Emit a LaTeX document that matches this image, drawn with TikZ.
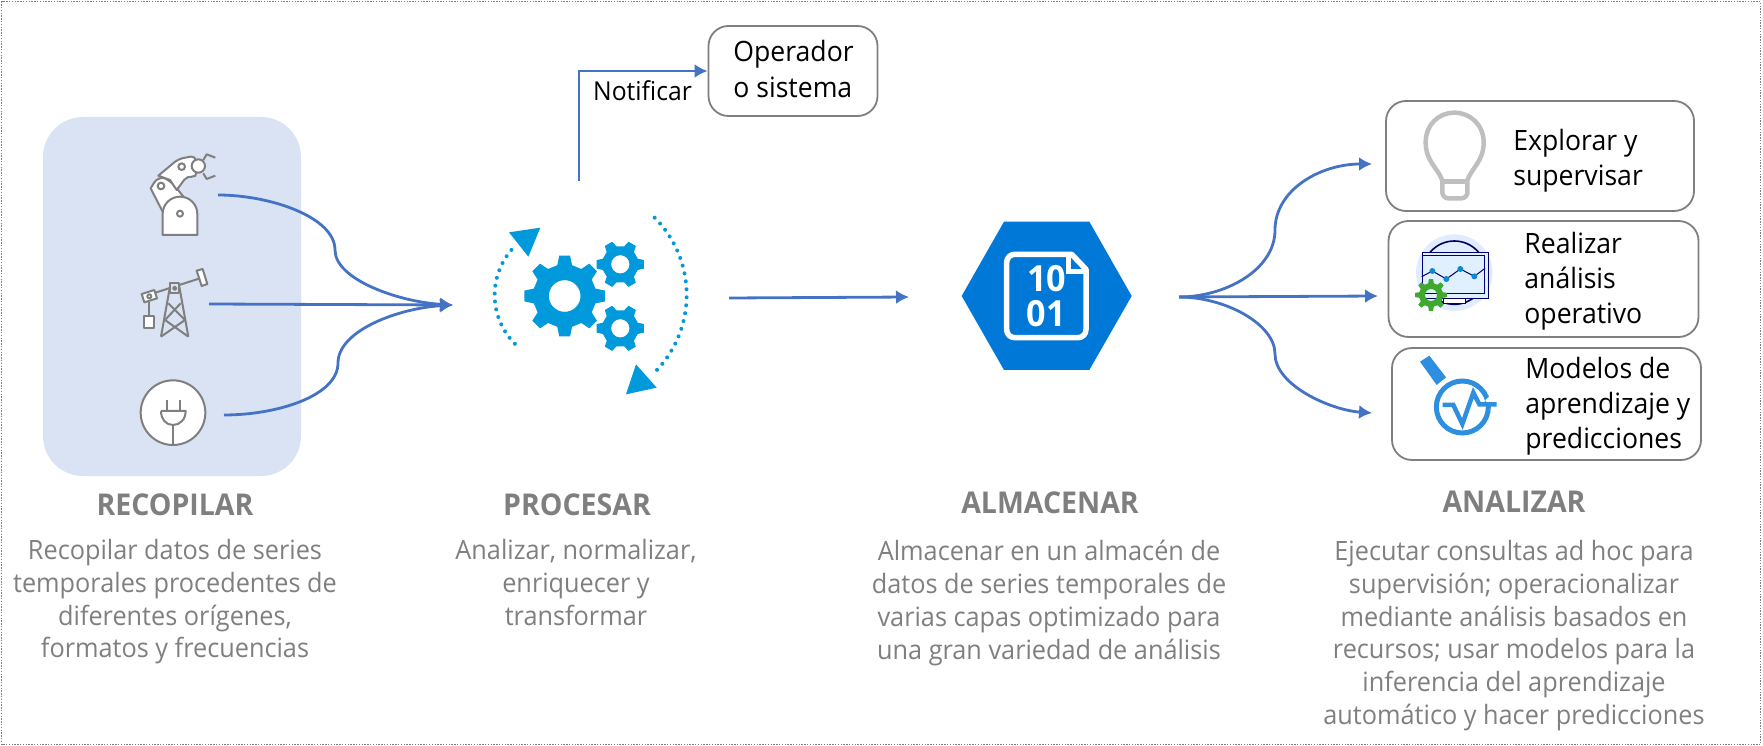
\documentclass[tikz,border=0pt]{standalone}
\usepackage{fontspec}
\setmainfont[FakeStretch=0.95]{Open Sans}
\usetikzlibrary{arrows.meta,positioning}

\definecolor{flowblue}{HTML}{4472C4}
\definecolor{panelblue}{HTML}{DAE3F3}
\definecolor{capgray}{HTML}{7F7F7F}
\definecolor{gearblue}{HTML}{0099DB}
\definecolor{hexblue}{HTML}{0078D7}
\definecolor{lensblue}{HTML}{2E8FE0}
\definecolor{geargreen}{HTML}{3FA92E}

\tikzset{
    every picture/.style={line width=0.75pt},
    flow/.style={draw=flowblue, line width=2.8pt, -{Latex[length=13pt,width=14pt]}},
    resultbox/.style={draw=capgray, line width=1.8pt, rounded corners=20pt, minimum width=#1, inner sep=0pt},
    boxtext/.style={font=\fontsize{28}{35}\selectfont, text=black, align=left, anchor=north west, inner sep=0pt},
    steptitle/.style={font=\fontsize{30}{32}\selectfont\bfseries, text=capgray, anchor=base, inner sep=0pt},
    stepbody/.style={font=\fontsize{26.6}{32.8}\selectfont, text=capgray, align=center, anchor=north, inner sep=0pt},
    icongray/.style={draw=capgray, line width=2pt, line join=round},
}

\newcommand{\gearicon}[6]{
    \fill[#6, even odd rule] ({#1+#5*cos(0.30*360/#3)},{#2+#5*sin(0.30*360/#3)})
        \foreach \i [evaluate=\i as \a using \i*360/#3, evaluate=\i as \s using 360/#3] in {1,...,#3} {
            -- ({#1+#5*cos(\a-0.30*\s)},{#2+#5*sin(\a-0.30*\s)})
            -- ({#1+#4*cos(\a-0.17*\s)},{#2+#4*sin(\a-0.17*\s)})
            -- ({#1+#4*cos(\a+0.17*\s)},{#2+#4*sin(\a+0.17*\s)})
            -- ({#1+#5*cos(\a+0.30*\s)},{#2+#5*sin(\a+0.30*\s)})
        } -- cycle (#1,#2) circle (#5*0.5);
}

\begin{document}
\begin{tikzpicture}[x=1pt, y=-1pt]
    \useasboundingbox (0,0) rectangle (1763,746);
    \draw[capgray, line width=1.4pt, dash pattern=on 1.4pt off 1.4pt] (1.5,1.5) rectangle (1760.5,744.5);

    \fill[panelblue, rounded corners=40pt] (43,117) rectangle (301,476);

    \begin{scope}[shift={(30,110)}, scale=1/3]
        \draw[icongray, fill=white] (398,305) -- (362,235) [rounded corners=8pt] -- (385,197) -- (420,210) [sharp corners] -- (462,262) -- cycle;
        \draw[icongray, fill=white] (385,197) [rounded corners=5pt] -- (445,147) -- (497,137) -- (500,203) -- (472,197) [sharp corners] -- (440,240) -- (420,210) -- cycle;
        \draw[icongray, fill=white] (505,168) circle (20);
        \draw[icongray] (520,150) -- (530,133) -- (556,143);
        \draw[icongray] (520,190) -- (530,207) -- (556,197);
        \draw[icongray, fill=white] (398,375) -- (398,312) .. controls (398,283) and (421,260) .. (450,260) .. controls (479,260) and (502,283) .. (502,312) -- (502,375) -- cycle;
        \draw[icongray] (393,228) circle (10);
        \draw[icongray] (455,170) circle (10);
        \draw[icongray] (450,311) circle (9);

        \draw[icongray] (393,680) -- (420,530) (448,530) -- (475,680);
        \draw[icongray] (415,580) -- (465,630) -- (393,680);
        \draw[icongray] (452,580) -- (405,630) -- (475,680);
        \draw[icongray] (370,550) -- (510,505);
        \draw[icongray, fill=panelblue] (420,520) rectangle (448,548);
        \draw[icongray] (434,535) circle (5);
        \draw[icongray, fill=white] (500,482) -- (518,477) -- (532,522) -- (515,528) -- cycle;
        \draw[icongray, fill=white] (335,552) -- (373,540) -- (381,565) -- (343,577) -- cycle;
        \draw[icongray] (358,559) circle (6);
        \draw[icongray] (358,577) -- (358,617);
        \draw[icongray, fill=white] (343,617) rectangle (373,653);

        \draw[icongray, fill=white] (429,908) circle (97);
        \draw[icongray] (410,870) -- (410,903) (450,870) -- (450,903);
        \draw[icongray] (393,903) -- (467,903) .. controls (467,928) and (450,945) .. (429,945) .. controls (408,945) and (393,928) .. (393,903);
        \draw[icongray] (429,945) -- (429,1005);
    \end{scope}

    \coordinate (robotout) at (218,195);
    \coordinate (pumpout) at (209,304);
    \coordinate (plugout) at (224,415);
    \coordinate (robotbend) at (335,250);
    \coordinate (plugbend) at (338,363);
    \coordinate (procin) at (453,305);
    \draw[flow] (robotout) .. controls +(52,0) and +(0,-33) .. (robotbend) .. controls +(0,30) and +(-53,-3) .. (procin);
    \draw[flow] (pumpout) -- (procin);
    \draw[flow] (plugout) .. controls +(53,0) and +(0,33) .. (plugbend) .. controls +(0,-33) and +(-53,3) .. (procin);

    \begin{scope}[shift={(470,10)}, scale=1/3]
        \gearicon{284}{858}{8}{122}{95}{gearblue}
        \gearicon{451}{763}{6}{72}{55}{gearblue}
        \gearicon{451}{955}{6}{72}{55}{gearblue}
        \foreach \a in {135,141.6,...,222}
            \fill[gearblue] ({281+207*cos(\a)},{855+207*sin(\a)}) circle (6);
        \foreach \a in {-45,-40.8,...,47}
            \fill[gearblue] ({322+328*cos(\a)},{855+328*sin(\a)}) circle (6);
        \fill[gearblue] (117,667) -- (211,653) -- (175,740) -- cycle;
        \fill[gearblue] (498,1063) -- (560,1133) -- (468,1153) -- cycle;
    \end{scope}

    \node[resultbox, minimum height=90pt] (operador) at (793,71) [minimum width=169pt] {};
    \node[boxtext, font=\fontsize{28}{36}\selectfont] (operadortxt) at (733,40) {Operador\\o sistema};
    \coordinate (procup) at (579,181);
    \draw[flow] (procup) |- (operador.west);
    \node[font=\fontsize{26}{30}\selectfont, text=black, inner sep=0pt, anchor=base] (notificar) at (642.5,101) {Notificar};

    \coordinate (procout) at (729,298);
    \coordinate (storein) at (909,297);
    \draw[flow] (procout) -- (storein);

    \begin{scope}[shift={(940,200)}, scale=1/3]
        \fill[hexblue] (65,288) -- (192,65) -- (448,65) -- (575,288) -- (448,510) -- (192,510) -- cycle;
        \draw[white, line width=5.5pt, line join=round] (395,163) -- (222,163) [rounded corners=8pt] -- (200,163) -- (200,413) -- (438,413) [sharp corners] -- (438,208) -- cycle;
        \draw[white, line width=4.5pt] (386,165) -- (386,214) -- (438,214);
        \node[font=\fontsize{36}{38}\selectfont\bfseries, text=white, inner sep=0pt] (storeten) at (320,235) {10};
        \node[font=\fontsize{36}{38}\selectfont\bfseries, text=white, inner sep=0pt] (storeone) at (318,342) {01};
    \end{scope}

    \coordinate (storeout) at (1179,297);
    \coordinate (upbend) at (1275,230);
    \coordinate (lowbend) at (1275,354);
    \coordinate (explorarin) at (1372,164);
    \coordinate (realizarin) at (1378,296);
    \coordinate (modelosin) at (1372,413);
    \draw[flow] (storeout) .. controls +(46,0) and +(0,40) .. (upbend) .. controls +(0,-40) and +(-52,0) .. (explorarin);
    \draw[flow] (storeout) -- (realizarin);
    \draw[flow] (storeout) .. controls +(46,0) and +(0,-30) .. (lowbend) .. controls +(0,31) and +(-42,-3) .. (modelosin);

    \node[resultbox, minimum width=308pt, minimum height=110pt] (explorar) at (1540,156) {};
    \node[resultbox, minimum width=310pt, minimum height=116pt] (realizar) at (1543.5,279) {};
    \node[resultbox, minimum width=309pt, minimum height=112pt] (modelos) at (1546.5,404) {};
    \node[boxtext] (explorartxt) at (1513,129) {Explorar y\\supervisar};
    \node[boxtext] (realizartxt) at (1524,232) {Realizar\\análisis\\operativo};
    \node[boxtext] (modelostxt) at (1525,357) {Modelos de\\aprendizaje y\\predicciones};

    \begin{scope}[shift={(1370,90)}, scale=1/3]
        \draw[draw=black!25, line width=4.5pt, line join=round] (217,272) .. controls (205,235) and (167,215) .. (167,157) .. controls (167,105) and (205,68) .. (253,68) .. controls (301,68) and (341,105) .. (341,157) .. controls (341,215) and (303,235) .. (292,272) -- (292,312) [rounded corners=6pt] -- (292,325) -- (217,325) [sharp corners] -- (217,272) -- cycle;
        \draw[draw=black!25, line width=4.5pt] (217,275) -- (292,275);

        \fill[blue!60!cyan!12] (253,548) circle (115);
        \draw[draw=blue!40!black, line width=1.6pt] (253,548) circle (95);
        \fill[blue!50!cyan!12] (158,487) rectangle (355,625);
        \draw[draw=blue!40!black, line width=1pt] (158,487) rectangle (355,625);
        \draw[draw=blue!40!black, line width=1pt, fill=white] (220,625) rectangle (285,642);
        \draw[draw=blue!50!black, line width=1pt] (158,498) rectangle (344,612);
        \draw[draw=blue!40!black, line width=1pt] (155,560) -- (187,543) -- (229,567) -- (271,537) -- (313,559) -- (345,535);
        \foreach \x/\y in {187/543, 229/567, 271/537, 313/559}
            \fill[cyan!70!blue] (\x,\y) circle (9);
        \gearicon{183}{615}{8}{48}{36}{geargreen}

        \fill[lensblue] (150,815) -- (178,797) -- (228,862) -- (200,885) -- cycle;
        \draw[draw=lensblue, line width=5pt] (277,951) circle (78);
        \draw[draw=white, line width=6pt] (352,925) -- (375,950);
        \draw[draw=lensblue, line width=4.5pt] (218,945) -- (250,945) -- (277,1002) -- (310,908) -- (328,943) -- (380,943);
    \end{scope}

    \node[steptitle] (recopilar) at (175,515) {RECOPILAR};
    \node[stepbody] (recopilartxt) at (175,539) {Recopilar datos de series\\temporales procedentes de\\diferentes orígenes,\\formatos y frecuencias};
    \node[steptitle] (procesar) at (577,515) {PROCESAR};
    \node[stepbody] (procesartxt) at (576,539) {Analizar, normalizar,\\enriquecer y\\transformar};
    \node[steptitle] (almacenar) at (1050,513) {ALMACENAR};
    \node[stepbody] (almacenartxt) at (1049,540) {Almacenar en un almacén de\\datos de series temporales de\\varias capas optimizado para\\una gran variedad de análisis};
    \node[steptitle] (analizar) at (1514,512) {ANALIZAR};
    \node[stepbody] (analizartxt) at (1514,540) {Ejecutar consultas ad hoc para\\supervisión; operacionalizar\\mediante análisis basados en\\recursos; usar modelos para la\\inferencia del aprendizaje\\automático y hacer predicciones};
\end{tikzpicture}
\end{document}
